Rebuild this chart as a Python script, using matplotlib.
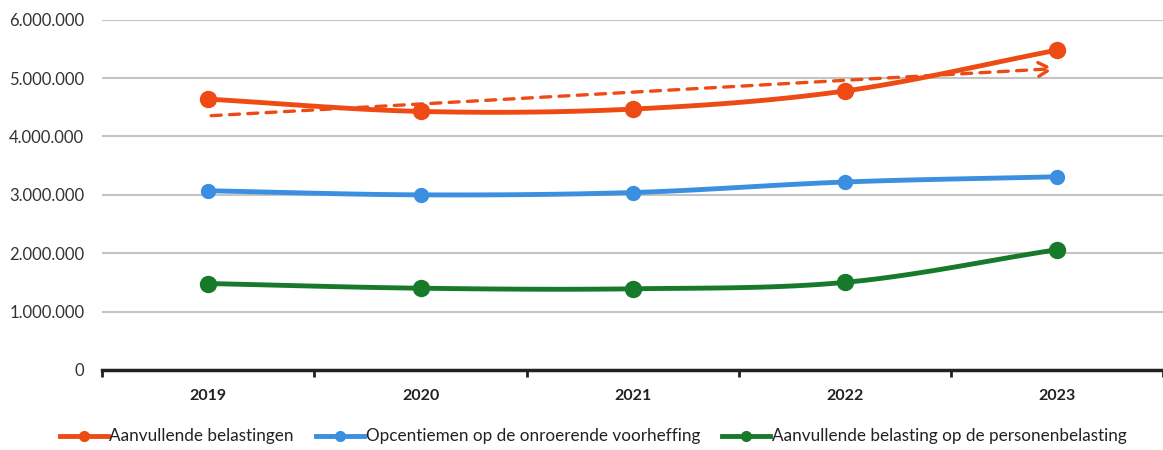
import numpy as np
import matplotlib
matplotlib.use("Agg")
import matplotlib.pyplot as plt
from matplotlib.ticker import FuncFormatter

# data
years = ["2019", "2020", "2021", "2022", "2023"]
aanvullende = [4640000, 4430000, 4470000, 4780000, 5480000]
opcentiemen = [3070000, 3000000, 3040000, 3220000, 3310000]
personenbel = [1480000, 1400000, 1390000, 1500000, 2060000]

labels = ["Aanvullende belastingen",
          "Opcentiemen op de onroerende voorheffing",
          "Aanvullende belasting op de personenbelasting"]
colors = ["#EE4B14", "#3B8FE0", "#167A2A"]

plt.rcParams['font.family'] = ['Lato', 'DejaVu Sans']


def smooth(x, y, n=30):
    # catmull-rom curve through the points, like excel's smoothed line
    x = np.asarray(x, float)
    y = np.asarray(y, float)
    px = np.concatenate([[2 * x[0] - x[1]], x, [2 * x[-1] - x[-2]]])
    py = np.concatenate([[2 * y[0] - y[1]], y, [2 * y[-1] - y[-2]]])
    xs, ys = [], []
    t = np.linspace(0, 1, n)
    for i in range(1, len(px) - 2):
        for p, out in ((px, xs), (py, ys)):
            p0, p1, p2, p3 = p[i - 1], p[i], p[i + 1], p[i + 2]
            out.extend(0.5 * ((2 * p1) + (-p0 + p2) * t
                              + (2 * p0 - 5 * p1 + 4 * p2 - p3) * t ** 2
                              + (-p0 + 3 * p1 - 3 * p2 + p3) * t ** 3))
    return xs, ys


fig = plt.figure(figsize=(11.63, 4.5), dpi=100)
ax = fig.add_axes([0.088, 0.178, 0.912, 0.778])

x = np.arange(len(years))
series = [aanvullende, opcentiemen, personenbel]
msizes = [11.5, 10, 11.5]
for vals, col, lab, ms in zip(series, colors, labels, msizes):
    sx, sy = smooth(x, vals)
    ax.plot(sx, sy, color=col, lw=3.5, solid_capstyle="round", zorder=3)
    ax.plot(x, vals, "o", color=col, ms=ms, zorder=4)
    ax.plot([], [], color=col, lw=3.5, marker="o", ms=7, label=lab)

# linear trend of the first series, dashed with arrow
k, b = np.polyfit(x, aanvullende, 1)
ax.annotate("", xy=(x[-1], k * x[-1] + b), xytext=(x[0], k * x[0] + b),
            arrowprops=dict(arrowstyle="->,head_length=0.9,head_width=0.5",
                            color=colors[0], lw=2.4, linestyle=(0, (3, 2.5))),
            zorder=5)

ax.set_xlim(-0.5, 4.5)
ax.set_ylim(0, 6000000)
ax.set_yticks(np.arange(0, 6000001, 1000000))
ax.yaxis.set_major_formatter(FuncFormatter(lambda v, p: f"{int(v):,}".replace(",", ".")))
ax.set_xticks(x)
ax.set_xticklabels(years, fontweight="bold", fontsize=11.5, color="#222222")
ax.set_xticks(np.arange(-0.5, 5, 1), minor=True)
ax.tick_params(axis="x", which="major", length=0, pad=14)
ax.tick_params(axis="x", which="minor", length=5, width=2, color="#222222", direction="out")
ax.tick_params(axis="y", length=0, labelsize=12, labelcolor="#333333", pad=13)

ax.grid(axis="y", color="#C4C4C4", lw=1.5)
ax.set_axisbelow(True)
for s in ["left", "right", "top"]:
    ax.spines[s].set_visible(False)
ax.spines["bottom"].set_color("#222222")
ax.spines["bottom"].set_linewidth(2.5)

fig.legend(loc="center", bbox_to_anchor=(0.51, 0.03), ncol=3, frameon=False,
           fontsize=12.3, handlelength=2.8, handletextpad=0.1, columnspacing=1.3,
           labelcolor="#222222", numpoints=1)

fig.savefig("out.png", dpi=100, facecolor="white")
